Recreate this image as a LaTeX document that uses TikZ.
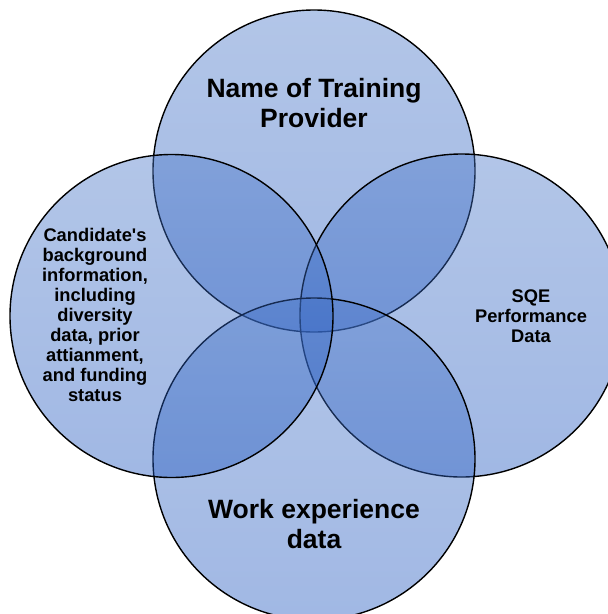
\documentclass[tikz,border=0pt]{standalone}
\usepackage{fontspec}
\setmainfont{Liberation Sans}
\usetikzlibrary{calc}
\definecolor{vennblue}{RGB}{72,118,200}
\definecolor{vennlow}{RGB}{30,85,190}

\begin{document}
\begin{tikzpicture}[x=1pt,y=-1pt,
  venn/.style={draw=black, line width=1.4pt, top color=vennblue, bottom color=vennlow, fill opacity=0.42},
  bigtext/.style={font=\bfseries\fontsize{26.5}{30}\selectfont, align=center},
  smalltext/.style={font=\bfseries\fontsize{18.3}{20}\selectfont, align=center}]

\useasboundingbox (0,0) rectangle (608,614);
\clip (0,0) rectangle (608,614);

\coordinate (O_T) at (314, 171);
\coordinate (O_R) at (461.5, 315.5);
\coordinate (O_B) at (314, 459);
\coordinate (O_L) at (171.5, 316);

\path[venn] (O_T) circle [radius=161];
\path[venn] (O_R) circle [radius=161.5];
\path[venn] (O_B) circle [radius=161];
\path[venn] (O_L) circle [radius=161.5];

\node[bigtext] (provider) at (314, 103) {Name of Training\\Provider};
\node[smalltext] (sqe) at (531, 316) {SQE\\Performance\\Data};
\node[bigtext] (work) at (314, 524) {Work experience\\data};
\node[smalltext] (candidate) at (95, 315) {Candidate\textquotesingle s\\background\\information,\\including\\diversity\\data, prior\\attianment,\\and funding\\status};

\end{tikzpicture}
\end{document}
